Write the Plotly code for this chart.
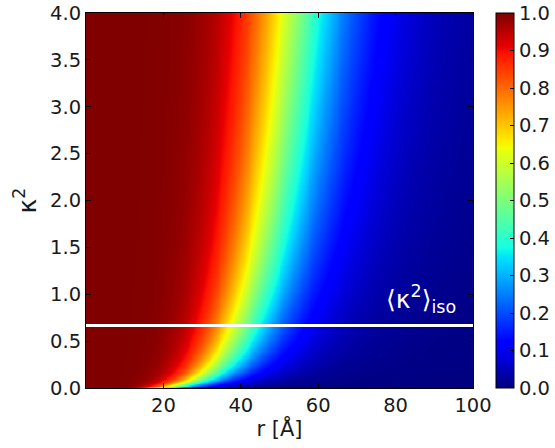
import numpy as np
import plotly.graph_objects as go

# ---- data ----
r_values = np.linspace(0.0, 100.0, 401)          # donor-acceptor distance r [Å]
kappa2_values = np.linspace(0.0, 4.0, 321)       # orientation factor κ²
R0_iso = 41.0                                    # Förster radius at <κ²>_iso
kappa2_iso = 2.0 / 3.0                           # isotropic average
x_ticks = [20, 40, 60, 80, 100]
y_ticks = [0.0, 0.5, 1.0, 1.5, 2.0, 2.5, 3.0, 3.5, 4.0]
cb_ticks = [0.0, 0.1, 0.2, 0.3, 0.4, 0.5, 0.6, 0.7, 0.8, 0.9, 1.0]
iso_line_r = [0.0, 100.0]
iso_line_k = [kappa2_iso, kappa2_iso]

# FRET efficiency E(r, κ²)
R, K = np.meshgrid(r_values, kappa2_values)
R0 = R0_iso * (K / kappa2_iso) ** (1.0 / 6.0)
with np.errstate(divide="ignore", invalid="ignore"):
    E = 1.0 / (1.0 + (R / np.where(R0 > 0, R0, 1e-9)) ** 6)
E = np.nan_to_num(E, nan=0.0)

# matplotlib 'jet' colormap
_jet = {
    "red": [(0, 0), (0.35, 0), (0.66, 1), (0.89, 1), (1, 0.5)],
    "green": [(0, 0), (0.125, 0), (0.375, 1), (0.64, 1), (0.91, 0), (1, 0)],
    "blue": [(0, 0.5), (0.11, 1), (0.34, 1), (0.65, 0), (1, 0)],
}
stops = sorted({p for ch in _jet.values() for p, _ in ch})
def _ch(name, t):
    xs = [p for p, _ in _jet[name]]
    ys = [v for _, v in _jet[name]]
    return float(np.interp(t, xs, ys))
jet_scale = [[t, "rgb(%d,%d,%d)" % tuple(round(255 * _ch(c, t)) for c in ("red", "green", "blue"))]
             for t in stops]

font_family = "DejaVu Sans"
txt_color = "#1a1a1a"
tick_size = 19.5

fig = go.Figure()
fig.add_trace(go.Heatmap(
    x=r_values, y=kappa2_values, z=E,
    zmin=0, zmax=1, colorscale=jet_scale, zsmooth="best",
    colorbar=dict(
        x=1.06, xanchor="left", xref="paper",
        y=0.5, yanchor="middle", len=1.0, lenmode="fraction",
        thickness=18, outlinecolor="black", outlinewidth=1,
        tickvals=cb_ticks, ticktext=["%.1f" % v for v in cb_ticks],
        ticks="inside", ticklen=4, tickcolor="black",
        tickfont=dict(family=font_family, size=tick_size, color=txt_color),
        xpad=0, ypad=0,
    ),
    showscale=True,
    hoverinfo="skip",
))
fig.add_trace(go.Scatter(
    x=iso_line_r, y=iso_line_k, mode="lines",
    line=dict(color="white", width=3), showlegend=False, hoverinfo="skip",
))

fig.add_annotation(
    x=86.5, y=0.95, xref="x", yref="y",
    text="⟨κ<sup>2</sup>⟩<sub>iso</sub>", showarrow=False,
    font=dict(family=font_family, size=25, color="white"),
)

axis_common = dict(
    showgrid=False, zeroline=False, ticks="inside", ticklen=5,
    tickcolor="black", mirror="allticks", showline=True,
    linecolor="black", linewidth=1, automargin=False,
    tickfont=dict(family=font_family, size=tick_size, color=txt_color),
)
fig.update_xaxes(
    range=[0, 100], tickvals=x_ticks, ticktext=[str(v) for v in x_ticks],
    title=dict(text="r [Å]", font=dict(family=font_family, size=21, color=txt_color), standoff=4),
    **axis_common,
)
fig.update_yaxes(
    range=[0, 4], tickvals=y_ticks, ticktext=["%.1f" % v for v in y_ticks],
    title=dict(text="κ<sup>2</sup>", font=dict(family=font_family, size=25, color=txt_color), standoff=6),
    **axis_common,
)

fig.update_layout(
    width=555, height=448,
    margin=dict(l=86, r=82, t=13, b=60, autoexpand=False),
    paper_bgcolor="white", plot_bgcolor="white",
    showlegend=False,
    font=dict(family=font_family, color=txt_color),
)

fig.write_html(
    "out.html",
    config={"displayModeBar": False},
    post_script="document.body.style.margin='0px';document.body.style.overflow='hidden';",
)
